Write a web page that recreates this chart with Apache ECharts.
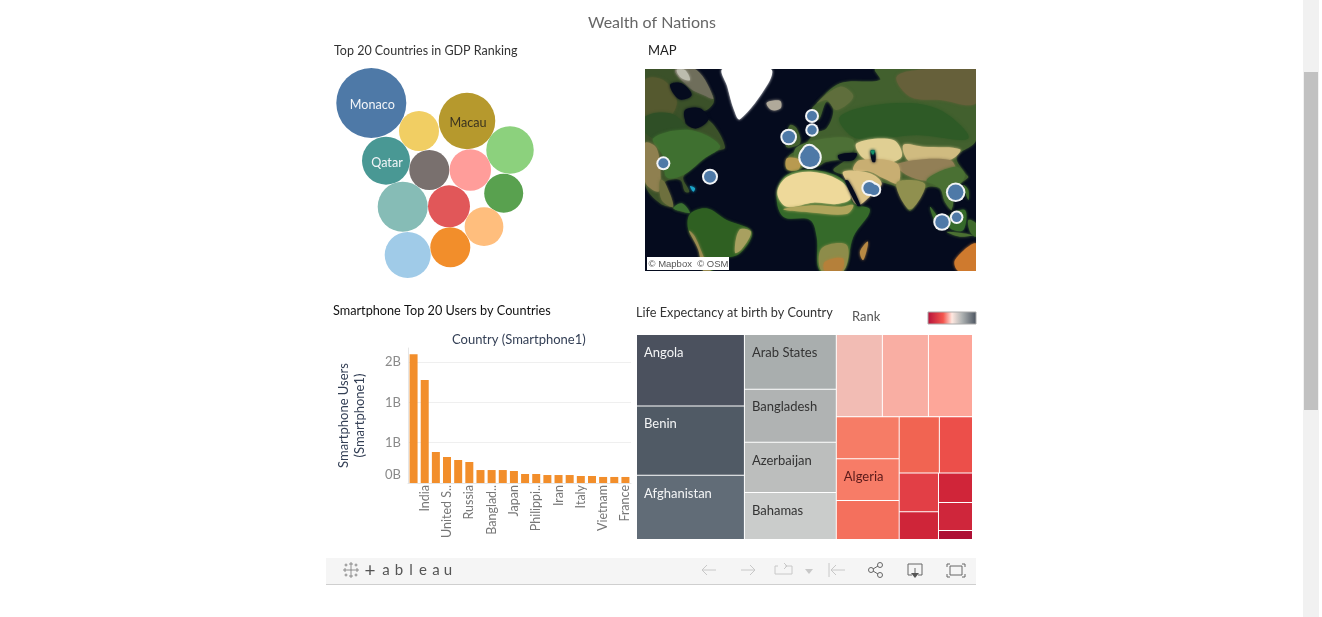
<!DOCTYPE html>
<html><head><meta charset="utf-8">
<style>html,body{margin:0;padding:0;background:#fff;overflow:hidden}#c{width:1322px;height:617px}</style>
<script src="https://cdn.jsdelivr.net/npm/echarts@6/dist/echarts.min.js"></script>
</head><body><div id="c"></div>
<script>
// ---------- bubble panel ----------
const gdpNames  = ['Monaco','','Macau','','Qatar','','','','','','','',''];
const gdpX      = [45.3,93,141,184,60,103.3,144.3,177.7,76.7,123,158,81.7,124.3];
const gdpY      = [43,71,61,90,100.7,110,110,133.3,146.7,146.3,166.7,195,187.3];
const gdpSize   = [70,40,56.5,47.5,48,40,41.5,39,50,42,38.7,46,40];
const gdpColors = ['#4e79a7','#f1ce63','#b6992d','#8cd17d','#499894','#79706e','#ff9d9a','#59a14f','#86bcb6','#e15759','#ffbe7d','#a0cbe8','#f28e2b'];
const gdpLabelColors = {Monaco:'#f2f5f8',Macau:'#3a3320',Qatar:'#f2f5f8'};

// ---------- smartphone panel ----------
const phoneCountries = ['China','India','Indonesia','United S..','Brazil','Russia','Pakistan','Banglad..','Mexico','Japan','Germany','Philippi..','Nigeria','Iran','Turkey','Italy','United Kingdom','Vietnam','Thailand','France'];
const phoneUsers = [1.60,1.28,0.385,0.323,0.286,0.261,0.161,0.161,0.161,0.149,0.112,0.112,0.099,0.099,0.099,0.087,0.087,0.075,0.075,0.075];

// ---------- life expectancy treemap ----------
const lifeNames  = ['Angola','Benin','Afghanistan','Arab States','Bangladesh','Azerbaijan','Bahamas','Armenia','Argentina','Antigua','Albania','Algeria','Bahrain','Australia','Austria','Barbados','Belgium','Belarus','Belize','Andorra'];
const lifeValues = [7597,7350,6813,4941,4804,4529,4255,3726,3726,3564,2594,2594,2406,2220,1832,1502,1072,988,938,302];
const lifeColors = ['#4b515e','#505a65','#616c77','#a9aeae','#b0b3b3','#bcbebd','#cacccb','#f2bcb4','#f9aea3','#fda699','#f67c66','#f77c67','#f4705d','#f16452','#ec4f4a','#e23f46','#cf2539','#d02539','#cf263b','#ae0f35'];
const lifeLabeled = {Angola:'#f4f5f6',Benin:'#f4f5f6',Afghanistan:'#f4f5f6','Arab States':'#333',Bangladesh:'#333',Azerbaijan:'#333',Bahamas:'#333',Algeria:'#5a1a1a'};
const lifeGroups = [[0,1,2],[3,4,5,6],[[7,8,9],[[10,11,12],[[13,14],[[15,16],[17,18,19]]]]]];

// ---------- map panel (map units) ----------
const cityX    = [70,210,446,516,516,510,508,688,702,947,950,906];
const cityY    = [310,350,231,168,210,292,275,384,389,397,472,486];
const citySize = [10,12,12.7,10,9.5,19.5,12,12,10.5,15.5,9.5,13.5];
const SEA = '#050b1e';
const landShapes = [
 // North America
 {c:'#3b5129',p:[[15,27],[150,27],[190,70],[222,120],[200,150],[150,160],[135,190],[170,205],[205,180],[255,262],[215,275],[185,300],[130,350],[148,395],[135,395],[120,360],[75,365],[65,395],[100,445],[150,460],[110,445],[60,430],[15,370]]},
 {c:'#55592f',p:[[15,60],[70,60],[110,120],[90,170],[40,185],[15,170]]},
 {c:'#2f4f26',p:[[15,170],[90,160],[140,200],[150,240],[60,240],[15,215]]},
 {c:'#3f7030',p:[[40,235],[150,210],[240,258],[190,298],[130,345],[80,352],[70,290]]},
 {c:'#8f8050',p:[[15,250],[50,265],[62,360],[55,395],[15,365]]},
 {c:'#6e703e',p:[[60,360],[75,368],[100,440],[65,420]]},
 {c:SEA,p:[[135,150],[180,145],[205,178],[170,205],[140,190]]},
 {c:'#6f6e5b',p:[[105,30],[170,30],[220,115],[190,105],[150,85]]},
 {c:SEA,p:[[90,75],[125,70],[155,105],[118,118]]},
 {c:'#bcbcae',p:[[110,30],[135,30],[150,60],[125,55]]},
 {c:'#3b7030',p:[[100,445],[125,430],[150,458],[130,455]]},
 // South America
 {c:'#2f6022',p:[[150,462],[200,445],[260,480],[335,515],[300,580],[240,600],[215,633],[190,633],[175,560],[145,510]]},
 {c:'#9a8a50',p:[[147,512],[165,530],[195,600],[212,633],[190,633],[175,570]]},
 {c:'#a8a060',p:[[298,510],[333,516],[305,568],[285,578]]},
 // Greenland and Iceland
 {c:'#ffffff',p:[[248,27],[392,27],[385,70],[300,178],[282,150],[262,80]]},
 {c:'#b0a99a',p:[[380,128],[420,122],[422,145],[395,150]]},
 // Britain
 {c:'#44602f',p:[[450,195],[470,205],[480,250],[440,262],[440,235]]},
 // Eurasia
 {c:'#42602e',p:[[525,135],[600,70],[720,60],[706,27],[1008,27],[1008,240],[950,290],[975,340],[985,352],[960,370],[935,395],[935,450],[915,425],[900,385],[855,385],[810,452],[775,385],[725,365],[690,345],[620,345],[580,330],[615,300],[560,305],[530,320],[510,310],[475,330],[440,328],[445,290],[488,262],[525,220],[560,205],[580,150],[560,125],[535,180],[515,150]]},
 {c:'#66603a',p:[[770,50],[860,27],[1008,27],[1008,130],[900,120],[810,110]]},
 {c:'#2e5a26',p:[[600,170],[760,130],[900,150],[985,235],[830,225],[650,235]]},
 {c:'#5f6e3c',p:[[530,130],[600,80],[640,110],[590,150],[560,120]]},
 {c:'#4d7036',p:[[470,262],[560,235],[640,240],[625,290],[560,300],[500,305],[465,300]]},
 {c:'#e0cf93',p:[[650,250],[760,240],[785,290],[720,312],[665,290]]},
 {c:'#d0bb80',p:[[790,255],[850,260],[960,268],[930,300],[810,305]]},
 {c:'#927f56',p:[[770,312],[930,300],[945,345],[860,362],[800,345]]},
 {c:'#c8ae72',p:[[660,300],[770,310],[775,370],[730,355],[690,335],[640,330]]},
 {c:'#90904f',p:[[770,368],[855,372],[810,448]]},
 {c:'#4a7033',p:[[860,360],[945,320],[975,345],[945,395],[935,445],[915,425],[900,385]]},
 {c:'#b89a50',p:[[441,295],[480,300],[475,329],[441,327]]},
 {c:SEA,p:[[595,285],[650,280],[640,300],[600,300]]},
 {c:SEA,p:[[692,272],[704,272],[706,305],[697,305]]},
 {c:'#15906a',p:[[692,272],[704,272],[699,284]]},
 // Arabia
 {c:'#dcc487',p:[[610,335],[690,340],[725,370],[700,400],[650,435],[620,365]]},
 // Africa
 {c:'#356a2a',p:[[410,400],[440,345],[520,330],[610,360],[640,430],[690,450],[640,530],[610,633],[540,633],[530,530],[510,480],[430,470]]},
 {c:'#eed99a',p:[[412,398],[442,350],[520,336],[606,366],[632,415],[590,432],[520,428],[440,440]]},
 {c:'#b0a55c',p:[[430,448],[520,436],[600,440],[640,435],[620,462],[520,458]]},
 {c:'#8d8c4a',p:[[545,565],[620,555],[610,633],[545,633]]},
 {c:'#b5803a',p:[[555,605],[608,595],[604,633],[555,633]]},
 {c:'#b88a44',p:[[660,575],[684,545],[670,600]]},
 {c:SEA,p:[[615,362],[625,362],[662,437],[652,437]]},
 // South-east Asia and Oceania
 {c:'#3f6e2c',p:[[870,440],[910,500],[895,505]]},
 {c:'#356a2a',p:[[925,470],[975,450],[970,510],[930,505]]},
 {c:'#4b7032',p:[[920,515],[1000,525],[960,530]]},
 {c:'#3f6a2c',p:[[985,480],[1008,490],[1008,530],[990,515]]},
 {c:'#3f6a2c',p:[[970,375],[985,390],[985,420]]},
 {c:'#cf7a2e',p:[[945,600],[1008,550],[1008,633],[955,633]]},
 {c:'#1ba5c9',p:[[150,378],[165,385],[160,395]]}
];

const FONT = 'Lato, "Open Sans", sans-serif';
function node(entry){
  if (Array.isArray(entry)) return {name:'', children: entry.map(node)};
  const name = lifeNames[entry], col = lifeLabeled[name];
  return {name, value: lifeValues[entry],
    itemStyle:{color: lifeColors[entry], borderWidth:0.5, borderColor:'#fff'},
    label: col ? {show:true, color: col} : {show:false}};
}
function txt(x,y,text,size,color,extra,fam){
  return Object.assign({type:'text',x,y,z:50,style:{text,fontSize:size,fill:color,fontFamily:fam||FONT,textBaseline:'middle',verticalAlign:'middle'}},extra||{});
}
const ic = {stroke:'#c8c8c8',lineWidth:1,fill:null};
const id = {stroke:'#666',lineWidth:1,fill:null};
function poly(points,s){return {type:'polyline',z:50,shape:{points},style:s};}
const logo = [];
[[351,570,4],[345,570,2],[357,570,2],[351,564,2],[351,576,2],[346,565,1.5],[356,565,1.5],[346,575,1.5],[356,575,1.5]].forEach(([x,y,r])=>{
  logo.push(poly([[x-r,y],[x+r,y]],{stroke:'#777',lineWidth:.8}),poly([[x,y-r],[x,y+r]],{stroke:'#777',lineWidth:.8}));
});
const word = [['+',370,19],['a',386,15],['b',399,15],['l',411,15],['e',423,15],['a',436,15],['u',448,15]];
word.forEach(([t,x,s])=>{
  const e = txt(x,570.5,t,s,'#555'); e.style.align='center'; e.style.textAlign='center'; logo.push(e);
});
const graphics = [
 {type:'rect',z:1,shape:{x:1303,y:0,width:16,height:617},style:{fill:'#f1f1f1'}},
 {type:'rect',z:2,shape:{x:1304,y:72,width:14,height:338},style:{fill:'#c1c1c1'}},
 {type:'rect',z:1,shape:{x:326,y:558,width:650,height:26},style:{fill:'#f5f5f5'}},
 {type:'rect',z:1,shape:{x:326,y:584,width:650,height:1},style:{fill:'#cfcfcf'}},
 txt(588,23,'Wealth of Nations',16,'#666'),
 txt(334,51,'Top 20 Countries in GDP Ranking',12.5,'#333'),
 txt(648,51,'MAP',13,'#222'),
 txt(333,311,'Smartphone Top 20 Users by Countries',12.7,'#111'),
 txt(636,313,'Life Expectancy at birth by Country',12.7,'#333'),
 txt(852,317,'Rank',13,'#555'),
 txt(452,339.5,'Country (Smartphone1)',13,'#333f55'),
 {type:'rect',z:50,shape:{x:928,y:312,width:48,height:12},style:{stroke:'#aaa',lineWidth:1,fill:new echarts.graphic.LinearGradient(0,0,1,0,[{offset:0,color:'#b5103a'},{offset:.32,color:'#f4564e'},{offset:.5,color:'#ffe8e0'},{offset:.7,color:'#b0b4b4'},{offset:1,color:'#49525e'}])}},
 {type:'rect',z:50,shape:{x:647,y:257,width:82,height:13},style:{fill:'#fff'}},
 txt(648.5,264,'© Mapbox  © OSM',9.5,'#555',{},'"Liberation Sans", Arial, sans-serif'),
 ...logo,
 poly([[702,570],[716,570]],ic),poly([[707,565],[702,570],[707,575]],ic),
 poly([[741,570],[755,570]],ic),poly([[750,565],[755,570],[750,575]],ic),
 poly([[785,566],[792,566],[792,574],[775,574],[775,566],[778,566]],ic),poly([[784,563],[787,566],[784,569]],ic),
 {type:'polygon',z:50,shape:{points:[[805,569],[813,569],[809,574]]},style:{fill:'#c8c8c8'}},
 poly([[829,563],[829,577]],ic),poly([[831,570],[845,570]],ic),poly([[836,565],[831,570],[836,575]],ic),
 {type:'circle',z:50,shape:{cx:871,cy:570,r:2.5},style:id},
 {type:'circle',z:50,shape:{cx:880,cy:565,r:2.5},style:id},
 {type:'circle',z:50,shape:{cx:880,cy:575,r:2.5},style:id},
 poly([[873,569],[878,566]],id),poly([[873,571],[878,574]],id),
 poly([[912,575],[908,575],[908,564],[922,564],[922,575],[918,575]],id),poly([[915,568],[915,575]],id),
 {type:'polygon',z:50,shape:{points:[[911,573],[919,573],[915,578]]},style:{fill:'#555'}},
 poly([[947,567],[947,564],[950,564]],id),poly([[962,564],[965,564],[965,567]],id),poly([[947,574],[947,577],[950,577]],id),poly([[962,577],[965,577],[965,574]],id),
 {type:'rect',z:50,shape:{x:950,y:566,width:12,height:9},style:id}
];

const chart = echarts.init(document.getElementById('c'),null,{renderer:'canvas'});
const hiddenAxis = {show:false,splitLine:{show:false}};
chart.setOption({
 animation:false,
 graphic:{elements:graphics},
 grid:[
  {left:326,top:60,width:215,height:225,show:false},
  {left:645,top:69,width:331,height:202,show:true,backgroundColor:SEA,borderWidth:0},
  {left:408,top:348,width:223,height:135,show:false}
 ],
 xAxis:[
  {...hiddenAxis,type:'value',gridIndex:0,min:0,max:215},
  {...hiddenAxis,type:'value',gridIndex:1,min:15,max:1008},
  {type:'category',gridIndex:2,data:phoneCountries,
   axisLine:{lineStyle:{color:'#e6e6e6'}},axisTick:{show:false},
   axisLabel:{rotate:90,interval:(i)=>i%2===1,color:'#777',fontSize:12.5,fontFamily:FONT,margin:2,padding:[0,0,10,0]}}
 ],
 yAxis:[
  {...hiddenAxis,type:'value',gridIndex:0,min:0,max:225,inverse:true},
  {...hiddenAxis,type:'value',gridIndex:1,min:27,max:633,inverse:true},
  {type:'value',gridIndex:2,min:0,max:1.677,interval:0.5,
   name:'Smartphone Users\n(Smartphone1)',nameLocation:'middle',nameRotate:90,nameGap:40,
   nameTextStyle:{color:'#333f55',fontSize:13,fontFamily:FONT,lineHeight:16},
   axisLine:{show:true,lineStyle:{color:'#e6e6e6'}},axisTick:{show:false},
   splitLine:{show:true,showMinLine:false,showMaxLine:false,lineStyle:{color:'#efefef'}},
   axisLabel:{color:'#8a8a8a',fontSize:13,fontFamily:FONT,margin:7,showMaxLabel:false,verticalAlignMinLabel:'bottom',
     formatter:(v)=>v===0?'{z|0B}':Math.round(v+0.001)+'B',
     rich:{z:{color:'#8a8a8a',fontSize:13,fontFamily:FONT,padding:[0,0,2,0]}}}}
 ],
 series:[
  {type:'scatter',xAxisIndex:0,yAxisIndex:0,silent:true,clip:false,
   data:gdpX.map((x,i)=>({value:[x,gdpY[i]],symbolSize:gdpSize[i],itemStyle:{color:gdpColors[i],opacity:1},
     label:gdpNames[i]?{show:true,position:'inside',offset:[1,2],formatter:gdpNames[i],color:gdpLabelColors[gdpNames[i]],fontSize:12.6,fontFamily:FONT}:{show:false}}))},
  {type:'custom',xAxisIndex:1,yAxisIndex:1,silent:true,clip:true,z:1,
   data:landShapes.map((s,i)=>[i]),
   renderItem:(params,api)=>{
     const s = landShapes[api.value(0)];
     return {type:'polygon',shape:{points:s.p.map(q=>api.coord(q)),smooth:0.35},
       style:{fill:s.c,shadowBlur:3,shadowColor:s.c}};
   }},
  {type:'scatter',xAxisIndex:1,yAxisIndex:1,silent:true,z:5,
   data:cityX.map((x,i)=>({value:[x,cityY[i]],symbolSize:citySize[i]+4})),
   itemStyle:{color:'#f2f4f6',opacity:1}},
  {type:'scatter',xAxisIndex:1,yAxisIndex:1,silent:true,z:6,
   data:cityX.map((x,i)=>({value:[x,cityY[i]],symbolSize:citySize[i]})),
   itemStyle:{color:'#4e79a7',opacity:1}},
  {type:'bar',xAxisIndex:2,yAxisIndex:2,data:phoneUsers,barWidth:8,silent:true,itemStyle:{color:'#f28e2b'}},
  {type:'treemap',left:636.5,top:334.5,width:336,height:205,sort:false,squareRatio:0.001,
   roam:false,nodeClick:false,silent:true,breadcrumb:{show:false},visibleMin:0,
   label:{show:false,position:[2,6],fontSize:13,fontFamily:FONT},upperLabel:{show:false},
   itemStyle:{borderWidth:0,gapWidth:0},
   data:lifeGroups.map(node)}
 ]
});
</script></body></html>
